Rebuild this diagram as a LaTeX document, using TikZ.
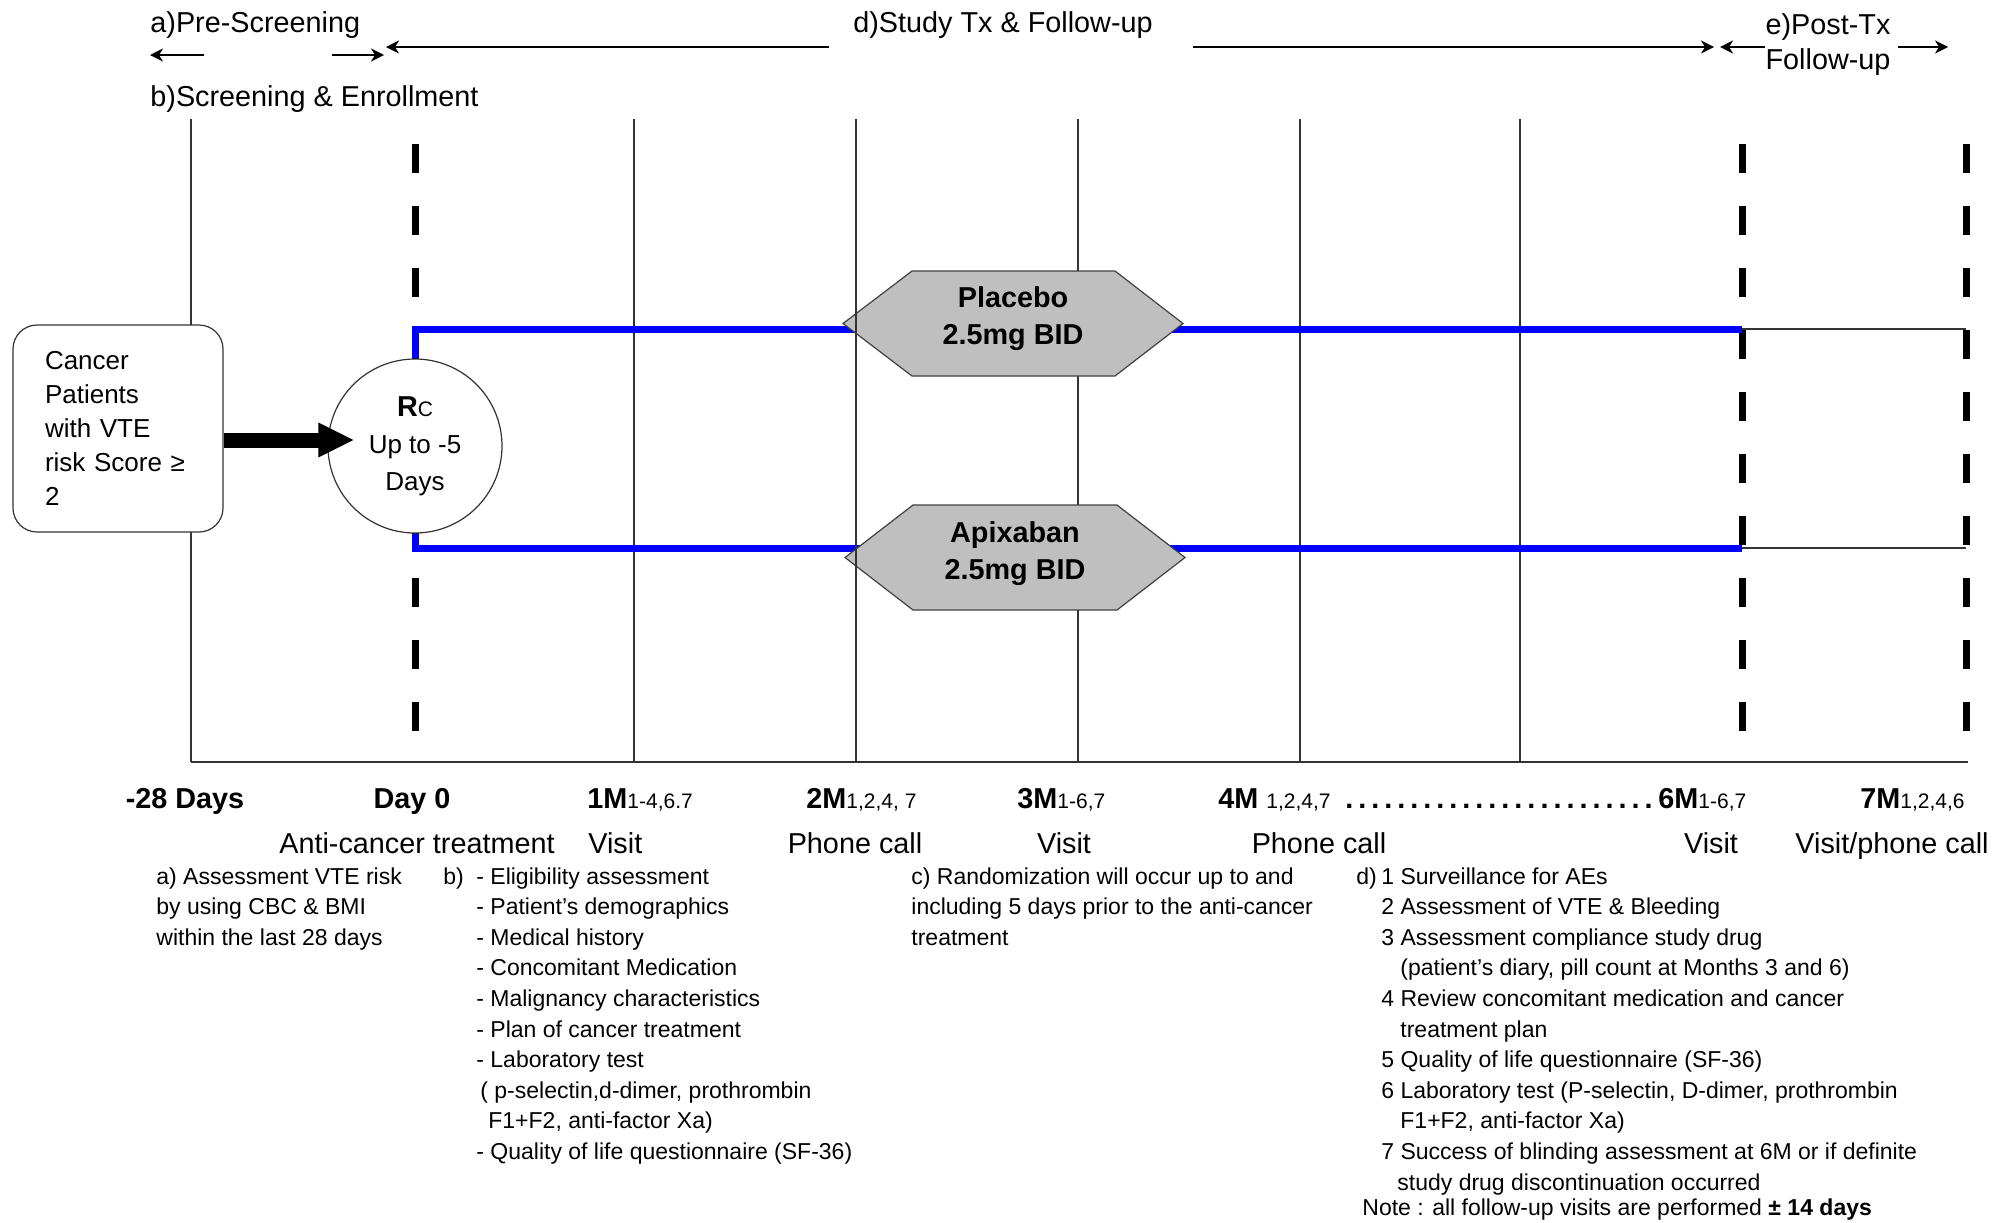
\documentclass[tikz,border=0pt]{standalone}
\usepackage{fontspec}
\setmainfont{Liberation Sans}
\usetikzlibrary{arrows.meta}
\newcommand\sbx[1]{{\fontsize{10.5}{12}\selectfont\mdseries #1}}
\begin{document}
\begin{tikzpicture}[x=0.5pt,y=-0.5pt,
  lbl/.style={font=\fontsize{14.4}{17.5}\selectfont, inner sep=0pt},
  blbl/.style={font=\fontsize{14.4}{17.5}\selectfont\bfseries, inner sep=0pt, anchor=base west},
  desc/.style={font=\fontsize{11.5}{15.3}\selectfont, inner sep=0pt, anchor=north west, align=left},
  gridl/.style={line width=0.6pt, black!80},
  thickdash/.style={line width=3.5pt, dash pattern=on 14.5pt off 16.5pt},
  arm/.style={line width=3.5pt, blue},
  thinl/.style={line width=0.65pt, black!80},
  hexa/.style={fill=black!25, draw=black!75, line width=0.6pt},
  hexlbl/.style={font=\fontsize{14.4}{18.5}\selectfont\bfseries, align=center, inner sep=0pt},
  tl/.style={line width=0.8pt, -{Stealth[length=6.5pt,width=6.5pt,inset=2pt]}},
]
\useasboundingbox (0,0) rectangle (2000,1222);

% grid and axis
\foreach \x in {191,634,1078,1300,1520} \draw[gridl] (\x,119) -- (\x,762);
\draw[gridl] (191,762) -- (1968,762);
\foreach \x in {415,1742,1966} \draw[thickdash] (\x,144) -- (\x,733);

% post-treatment thin lines
\coordinate (pu0) at (1742,329); \coordinate (pu1) at (1966,329);
\coordinate (pl0) at (1742,548); \coordinate (pl1) at (1966,548);
\draw[thinl] (pu0) -- (pu1);
\draw[thinl] (pl0) -- (pl1);

% patients box and randomisation circle
\node[draw=black!80, line width=0.6pt, rounded corners=12pt, fill=white,
      minimum width=105pt, minimum height=103.5pt, text width=73pt, align=left,
      inner sep=0pt, font=\fontsize{13}{17}\selectfont] (pat) at (118,428.5)
  {Cancer\\Patients\\with VTE\\risk Score ≥\\2};
\node[circle, draw=black!80, line width=0.6pt, fill=white, minimum size=87pt,
      inner sep=0pt, align=center, font=\fontsize{13}{18.5}\selectfont] (rc) at (415,446)
  {{\fontsize{14.4}{18.5}\selectfont\bfseries R}{\fontsize{10.5}{12}\selectfont C}\\Up to -5\\Days};

% blue arms
\draw[arm] (rc.north) -- (rc.north |- pu0) -- (pu0);
\draw[arm] (rc.south) -- (rc.south |- pl0) -- (pl0);

% hexagons
\filldraw[hexa] (843,323.5) -- (912,271) -- (1115,271) -- (1183,323.5) -- (1115,376) -- (912,376) -- cycle;
\node[hexlbl] (plac) at (1013,319) {Placebo\\2.5mg BID};
\filldraw[hexa] (845,557.5) -- (913,505) -- (1117,505) -- (1185,557.5) -- (1117,610) -- (913,610) -- cycle;
\node[hexlbl] (apix) at (1015,554) {Apixaban\\2.5mg BID};
\draw[gridl] (856,119) -- (856,762);

% thick arrow
\draw[line width=7.5pt, -{Triangle[length=18pt,width=16pt]}] (pat.east |- 0,440) -- ([xshift=13.5pt]rc.west |- 0,440);

% top labels and phase arrows
\node[lbl, anchor=west] (apre) at (150,25) {a)Pre-Screening};
\node[lbl, anchor=west] (bscr) at (150,99) {b)Screening \& Enrollment};
\node[lbl] (dstudy) at (1003,25) {d)Study Tx \& Follow-up};
\node[lbl, align=center] (epost) at (1828,45) {e)Post-Tx\\Follow-up};
\coordinate (aL0) at (204,55); \coordinate (aL1) at (150,55);
\coordinate (aR0) at (332,55); \coordinate (aR1) at (384,55);
\coordinate (dL0) at (829,47); \coordinate (dL1) at (386,47);
\coordinate (dR0) at (1193,47); \coordinate (dR1) at (1714,47);
\coordinate (eL0) at (1765,47); \coordinate (eL1) at (1720,47);
\coordinate (eR0) at (1898,47); \coordinate (eR1) at (1948,47);
\draw[tl] (aL0) -- (aL1);
\draw[tl] (aR0) -- (aR1);
\draw[tl] (dL0) -- (dL1);
\draw[tl] (dR0) -- (dR1);
\draw[tl] (eL0) -- (eL1);
\draw[tl] (eR0) -- (eR1);

% timepoints
\node[blbl, anchor=base] (m28) at (185,808) {-28 Days};
\node[blbl, anchor=base] (d0) at (412,808) {Day 0};
\node[blbl] (m1) at (587,808) {1M\sbx{1-4,6.7}};
\node[blbl] (m2) at (806,808) {2M\sbx{1,2,4, 7}};
\node[blbl] (m3) at (1017,808) {3M\sbx{1-6,7}};
\node[blbl] (m4) at (1218,808) {4M \sbx{1,2,4,7}};
\node[blbl] (dots) at (1345,808) {\foreach \i in {1,...,24}{.\kern2.5pt}};
\node[blbl] (m6) at (1658,808) {6M\sbx{1-6,7}};
\node[blbl] (m7) at (1860,808) {7M\sbx{1,2,4,6}};

\node[lbl, anchor=base] (t0) at (417,853) {Anti-cancer treatment};
\node[lbl, anchor=base west] (t1) at (588,853) {Visit};
\node[lbl, anchor=base] (t2) at (855,853) {Phone call};
\node[lbl, anchor=base] (t3) at (1064,853) {Visit};
\node[lbl, anchor=base] (t4) at (1319,853) {Phone call};
\node[lbl, anchor=base] (t6) at (1711,853) {Visit};
\node[lbl, anchor=base] (t7) at (1892,853) {Visit/phone call};

% descriptions
\node[desc] (da) at (156,867) {a) Assessment VTE risk\\by using CBC \& BMI\\within the last 28 days};
\node[desc] (dbl) at (443,867) {b)};
\node[desc] (db) at (476,867) {- Eligibility assessment\\- Patient’s demographics\\- Medical history\\- Concomitant Medication\\- Malignancy characteristics\\- Plan of cancer treatment\\- Laboratory test\\\hspace*{2pt}( p-selectin,d-dimer, prothrombin\\\hspace*{6pt}F1+F2, anti-factor Xa)\\- Quality of life questionnaire (SF-36)};
\node[desc] (dc) at (911,867) {c) Randomization will occur up to and\\including 5 days prior to the anti-cancer\\treatment};
\node[desc] (ddl) at (1356,867) {d)};
\node[desc] (dd) at (1381,867) {1 Surveillance for AEs\\2 Assessment of VTE \& Bleeding\\3 Assessment compliance study drug\\\hspace*{9.5pt}(patient’s diary, pill count at Months 3 and 6)\\4 Review concomitant medication and cancer\\\hspace*{9.5pt}treatment plan\\5 Quality of life questionnaire (SF-36)\\6 Laboratory test (P-selectin, D-dimer, prothrombin\\\hspace*{9.5pt}F1+F2, anti-factor Xa)\\7 Success of blinding assessment at 6M or if definite\\\hspace*{8pt}study drug discontinuation occurred};
\node[desc, anchor=base west] (note) at (1362,1215) {Note : all follow-up visits are performed \textbf{± 14 days}};
\end{tikzpicture}
\end{document}
